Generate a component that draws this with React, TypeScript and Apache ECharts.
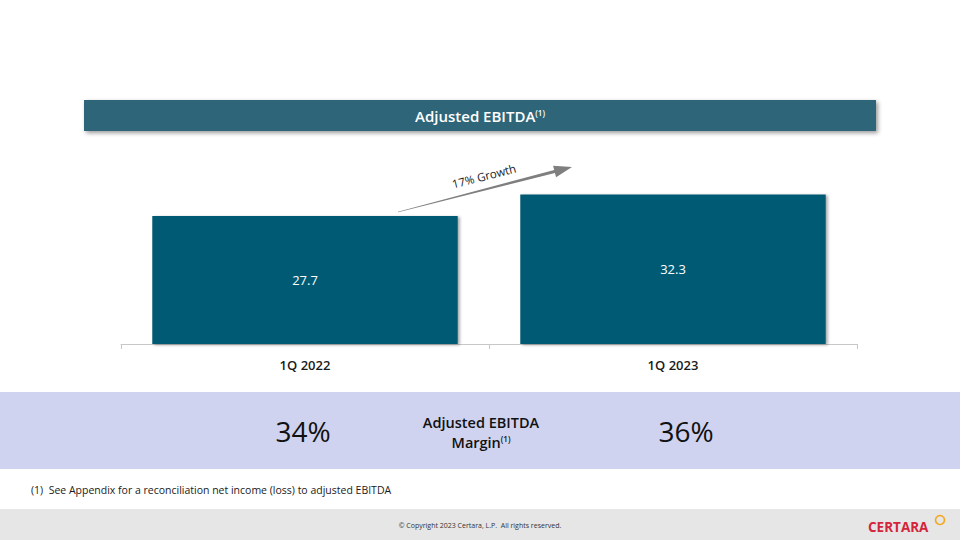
import React, { useEffect, useRef } from "react";
import * as echarts from "echarts";

const categories = ["1Q 2022", "1Q 2023"];
const ebitdaValues = [27.7, 32.3];
const marginLabels = ["34%", "36%"];
const growthLabel = "17% Growth";
const titleText = "Adjusted EBITDA";
const marginTitleLines = ["Adjusted EBITDA", "Margin"];
const footnote = "(1)  See Appendix for a reconciliation net income (loss) to adjusted EBITDA";
const copyright = "© Copyright 2023 Certara, L.P.  All rights reserved.";

const FONT = "'Open Sans', 'Noto Sans', sans-serif";

export default function App() {
  const ref = useRef<HTMLDivElement>(null);
  useEffect(() => {
    document.body.style.margin = "0";
    if (!ref.current) return;
    const chart = echarts.init(ref.current, null, { renderer: "svg" });
    const ax = 572, ay = 167, sx = 398, sy = 212;
    const dx = ax - sx, dy = ay - sy;
    const len = Math.sqrt(dx * dx + dy * dy);
    const ux = dx / len, uy = dy / len;
    const nx = -uy, ny = ux;
    const bx = ax - 18 * ux, by = ay - 18 * uy;
    const arrowPts = [
      [sx - 0.3 * nx, sy - 0.3 * ny],
      [bx - 1.5 * nx, by - 1.5 * ny],
      [bx - 6 * nx, by - 6 * ny],
      [ax, ay],
      [bx + 6 * nx, by + 6 * ny],
      [bx + 1.5 * nx, by + 1.5 * ny],
      [sx + 0.3 * nx, sy + 0.3 * ny],
    ];
    chart.setOption({
      animation: false,
      backgroundColor: "#ffffff",
      grid: { left: 121, right: 103, top: 159, bottom: 196 },
      xAxis: {
        type: "category",
        data: categories,
        axisLine: { lineStyle: { color: "#c8c8c8", width: 1 } },
        axisTick: { show: true, length: 5, lineStyle: { color: "#c8c8c8" } },
        axisLabel: { color: "#1a1a1a", fontSize: 13, fontWeight: 600, fontFamily: FONT, margin: 14 },
      },
      yAxis: { type: "value", min: 0, max: 40, show: false, splitLine: { show: false } },
      series: [
        {
          type: "bar",
          data: ebitdaValues,
          barWidth: "83%",
          itemStyle: {
            color: "#005a73",
            shadowColor: "rgba(0,0,0,0.35)",
            shadowBlur: 3,
            shadowOffsetX: 2,
            shadowOffsetY: 1,
          },
          label: {
            show: true,
            position: "inside",
            color: "#ffffff",
            fontSize: 13,
            fontWeight: 500,
            fontFamily: FONT,
            formatter: (p: any) => p.value.toFixed(1),
          },
        },
      ],
      graphic: [
        {
          type: "rect",
          shape: { x: 84, y: 100, width: 792, height: 31 },
          style: { fill: "#2f6579", shadowColor: "rgba(0,0,0,0.4)", shadowBlur: 4, shadowOffsetX: 2, shadowOffsetY: 2 },
        },
        {
          type: "text",
          x: 480,
          y: 116,
          style: {
            text: "{a|" + titleText + "}{s|(1)}",
            align: "center",
            verticalAlign: "middle",
            fill: "#ffffff",
            rich: {
              a: { fontSize: 15, fontWeight: 600, fontFamily: FONT, fill: "#ffffff", lineHeight: 20, verticalAlign: "middle" },
              s: { fontSize: 8, fontWeight: 600, fontFamily: FONT, fill: "#ffffff", lineHeight: 20, verticalAlign: "top", padding: [2, 0, 0, 0] },
            },
          },
        },
        {
          type: "polygon",
          shape: { points: arrowPts },
          style: { fill: "#7f7f7f" },
        },
        {
          type: "text",
          x: 484,
          y: 176,
          rotation: 0.253,
          style: { text: growthLabel, align: "center", verticalAlign: "middle", fontSize: 11.5, fontFamily: FONT, fill: "#1a1a1a" },
        },
        {
          type: "rect",
          shape: { x: 0, y: 392, width: 960, height: 77 },
          style: { fill: "#cfd3f0" },
        },
        {
          type: "text",
          x: 303,
          y: 431,
          style: { text: marginLabels[0], align: "center", verticalAlign: "middle", fontSize: 28, fontFamily: FONT, fill: "#111111" },
        },
        {
          type: "text",
          x: 686,
          y: 431,
          style: { text: marginLabels[1], align: "center", verticalAlign: "middle", fontSize: 28, fontFamily: FONT, fill: "#111111" },
        },
        {
          type: "text",
          x: 481,
          y: 432,
          style: {
            text: "{a|" + marginTitleLines[0] + "}\n{a|" + marginTitleLines[1] + "}{s|(1)}",
            align: "center",
            verticalAlign: "middle",
            rich: {
              a: { fontSize: 14.5, fontWeight: 600, fontFamily: FONT, fill: "#111111", lineHeight: 20, verticalAlign: "middle" },
              s: { fontSize: 8, fontWeight: 600, fontFamily: FONT, fill: "#111111", lineHeight: 20, verticalAlign: "middle", padding: [0, 0, 8, 0] },
            },
          },
        },
        {
          type: "text",
          x: 31,
          y: 490,
          style: { text: footnote, align: "left", verticalAlign: "middle", fontSize: 10.5, fontFamily: FONT, fill: "#1a1a1a" },
        },
        {
          type: "rect",
          shape: { x: 0, y: 509, width: 960, height: 31 },
          style: { fill: "#e6e6e6" },
        },
        {
          type: "text",
          x: 480,
          y: 525,
          style: { text: copyright, align: "center", verticalAlign: "middle", fontSize: 7, fontFamily: FONT, fill: "#333333" },
        },
        {
          type: "text",
          x: 868,
          y: 527,
          style: { text: "CERTARA", align: "left", verticalAlign: "middle", fontSize: 13.5, fontWeight: 700, fontFamily: FONT, fill: "#d3263c" },
        },
        {
          type: "circle",
          shape: { cx: 940, cy: 520, r: 4.5 },
          style: { fill: "none", stroke: "#f2a81d", lineWidth: 1.6 },
        },
      ],
    });
    return () => chart.dispose();
  }, []);
  return <div ref={ref} style={{ width: 960, height: 540 }} />;
}
